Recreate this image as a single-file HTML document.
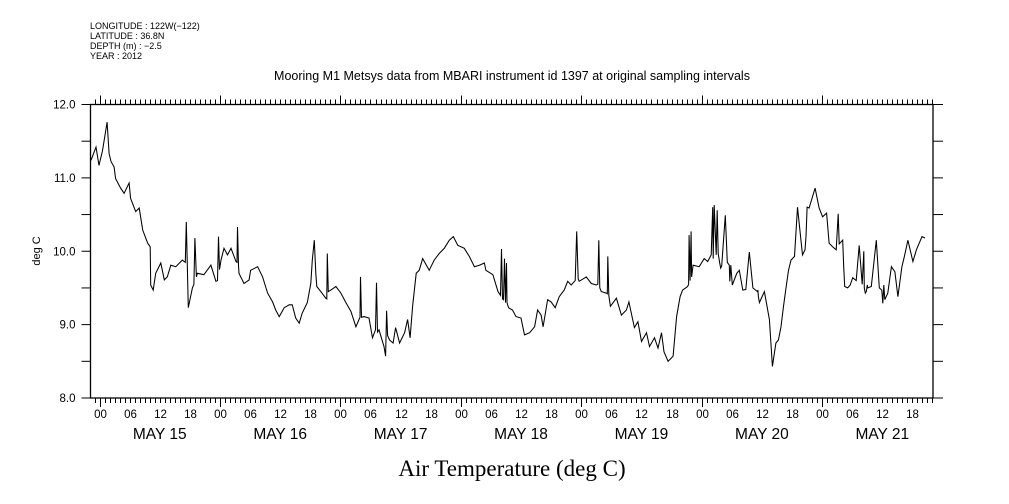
<!DOCTYPE html>
<html><head><meta charset="utf-8"><style>
body{margin:0;background:#fff;}
svg{display:block;font-family:"Liberation Sans",sans-serif;}
</style></head><body>
<svg id="chart" width="1009" height="504" viewBox="0 0 1009 504">
<g font-size="9" fill="#000">
<text x="90" y="29">LONGITUDE : 122W(−122)</text>
<text x="90" y="39">LATITUDE : 36.8N</text>
<text x="90" y="49">DEPTH (m) : −2.5</text>
<text x="90" y="59">YEAR : 2012</text>
</g>
<text x="512" y="80" text-anchor="middle" font-size="12.5">Mooring M1 Metsys data from MBARI instrument id 1397 at original sampling intervals</text>
<text transform="translate(40,251) rotate(-90)" text-anchor="middle" font-size="11">deg C</text>
<text x="512" y="476" text-anchor="middle" font-size="23" font-family="'Liberation Serif',serif">Air Temperature (deg C)</text>
<rect x="90.5" y="104.5" width="842.5" height="293.5" fill="none" stroke="#000" stroke-width="1.3"/>
<g id="ticks"></g>
<g id="labels" font-size="11.5"></g>
<polyline id="line" fill="none" stroke="#000" stroke-width="1.05"/>
</svg>
<script>
const hours=[-1.7,-0.7,-0.1,0.6,1.5,1.9,2.3,2.9,3.2,4.2,4.9,5.9,6.2,7.2,7.9,8.6,9.6,10.1,10.2,10.7,11.2,12.2,12.9,13.5,14.2,15.2,16.5,17.1,17.3,17.7,18.5,18.8,19.0,19.3,19.5,20.8,22.2,23.2,23.5,23.7,23.9,24.2,24.8,25.5,26.2,27.2,27.4,27.5,27.7,27.8,28.8,29.8,30.1,31.5,32.5,33.5,34.5,35.1,35.8,36.8,37.8,38.4,39.1,39.8,40.4,41.4,42.1,42.4,42.8,43.1,43.3,44.1,45.1,45.3,45.4,45.6,46.1,47.1,48.1,49.1,50.1,51.1,51.7,51.9,52.0,52.2,52.7,53.7,54.4,55.0,55.2,55.4,55.7,56.7,57.0,57.2,57.4,57.8,58.5,59.0,59.8,60.8,61.4,61.9,62.4,63.1,63.7,64.4,65.7,66.7,67.7,68.7,69.7,70.5,71.4,72.7,73.7,74.7,75.7,76.7,77.0,78.4,79.4,79.9,80.1,80.3,80.5,80.7,80.9,81.1,81.2,81.5,82.3,83.0,84.0,84.7,85.7,86.7,87.3,88.0,88.4,89.3,90.0,90.8,91.6,92.6,93.3,94.0,94.8,95.1,95.4,95.6,97.0,98.0,99.0,99.3,99.5,99.7,100.0,101.0,101.2,101.3,101.5,101.8,103.0,104.0,105.0,105.5,106.6,107.3,108.0,109.0,109.6,110.6,111.3,112.0,112.5,113.3,114.3,115.0,115.7,116.2,117.2,117.4,117.5,117.7,117.9,118.0,118.3,119.5,120.5,121.2,121.9,122.2,122.3,122.5,122.9,123.1,123.3,123.6,123.8,124.0,124.7,125.1,125.5,125.6,125.8,126.1,127.0,127.5,128.2,128.8,129.5,130.2,131.1,131.2,131.3,131.5,132.5,133.5,134.1,134.8,135.3,135.8,136.3,136.8,137.3,137.8,138.5,139.1,140.1,140.6,140.8,141.0,141.4,142.6,143.4,144.1,144.9,145.4,146.1,146.8,147.2,147.4,148.1,148.3,148.5,149.1,149.6,150.1,150.8,151.4,152.0,152.3,152.4,152.6,152.8,153.0,153.1,153.8,154.8,155.4,155.9,156.1,156.3,156.5,157.1,157.8,158.5,159.1,159.9,160.4,161.1,162.1,162.8,163.9,164.5,165.1,165.6,166.1];
const temps=[11.24,11.42,11.17,11.37,11.76,11.33,11.22,11.15,10.99,10.86,10.79,10.93,10.72,10.54,10.59,10.29,10.11,10.06,9.54,9.47,9.70,9.84,9.61,9.65,9.81,9.79,9.88,9.85,10.40,9.23,9.50,9.55,10.18,9.65,9.70,9.68,9.81,9.59,9.60,10.20,9.75,9.88,10.04,9.95,10.04,9.86,9.85,10.33,9.80,9.70,9.56,9.61,9.74,9.79,9.65,9.43,9.31,9.20,9.11,9.23,9.27,9.27,9.09,9.02,9.16,9.30,9.56,9.88,10.15,9.70,9.52,9.45,9.36,9.35,9.97,9.45,9.47,9.52,9.43,9.30,9.18,8.97,9.07,9.10,9.65,9.10,9.11,9.09,8.82,8.93,9.57,8.90,8.93,8.70,8.57,9.19,8.85,8.79,8.75,8.96,8.75,8.89,9.07,8.82,9.25,9.70,9.74,9.90,9.74,9.88,9.97,10.04,10.15,10.20,10.08,10.04,9.93,9.79,9.81,9.84,9.74,9.68,9.45,9.40,10.03,9.35,9.34,9.90,9.30,9.84,9.30,9.23,9.20,9.11,9.09,8.86,8.89,8.97,9.20,9.13,8.97,9.34,9.31,9.23,9.38,9.47,9.59,9.54,9.60,10.27,9.62,9.59,9.65,9.56,9.54,9.55,10.15,9.50,9.45,9.43,9.42,9.93,9.40,9.25,9.36,9.13,9.20,9.31,8.96,9.04,8.77,8.89,8.70,8.82,8.68,8.89,8.63,8.50,8.57,9.11,9.38,9.47,9.52,9.55,10.22,9.60,10.27,9.65,9.81,9.79,9.90,9.86,9.95,10.60,9.90,10.63,9.95,10.56,9.97,9.84,9.77,9.80,10.49,9.85,9.81,9.59,9.81,9.54,9.70,9.74,9.47,9.48,9.99,9.50,9.45,9.47,9.38,9.30,9.45,9.07,8.43,8.75,8.79,8.97,9.25,9.50,9.74,9.88,9.93,10.60,9.95,10.02,10.20,10.60,10.59,10.86,10.59,10.47,10.52,10.11,10.06,10.02,10.51,10.10,10.15,9.79,9.52,9.50,9.54,9.64,9.60,10.08,9.55,10.00,9.50,9.43,9.45,9.54,9.50,9.52,10.15,9.50,9.47,9.29,9.54,9.34,9.43,9.79,9.72,9.38,9.79,9.93,10.15,9.86,10.02,10.20,10.18];
const yTicks=[8.0,9.0,10.0,11.0,12.0];
const hourLabels=["00","06","12","18"];
const dayLabels=["MAY 15","MAY 16","MAY 17","MAY 18","MAY 19","MAY 20","MAY 21"];
const H0=-1.8,H1=166.1,X0=90.5,X1=933,Y0=398,Y1=104.5,V0=8,V1=12;
const xs=h=>X0+(h-H0)/(H1-H0)*(X1-X0);
const ys=v=>Y0-(v-V0)/(V1-V0)*(Y0-Y1);
const NS="http://www.w3.org/2000/svg";
const tg=document.getElementById('ticks'),lg=document.getElementById('labels');
function ln(x1,y1,x2,y2,name){const l=document.createElementNS(NS,'line');l.setAttribute('x1',x1);l.setAttribute('y1',y1);l.setAttribute('x2',x2);l.setAttribute('y2',y2);l.setAttribute('stroke','#000');l.setAttribute('stroke-width','1');


tg.appendChild(l);}
function tx(x,y,s,anchor,size,name){const t=document.createElementNS(NS,'text');t.setAttribute('x',x);t.setAttribute('y',y);t.setAttribute('text-anchor',anchor);if(size)t.setAttribute('font-size',size);t.textContent=s;


lg.appendChild(t);}
for(let v=V0;v<=V1+1e-9;v+=0.5){const y=ys(v);ln(X0-9,y,X0,y,'y-tick');ln(X1,y,X1+10,y,'y-tick-right');}
yTicks.forEach(v=>tx(X0-15,ys(v)+4,v.toFixed(1),'end',11.5,'y-tick-label'));
for(let h=-1;h<=H1;h++){const x=Math.round(xs(h))+0.5;const major=((h%24)+24)%24===0;
ln(x,Y1,x,Y1-(major?9:5),'x-tick-top');ln(x,Y0,x,Y0+(major?9:5),'x-tick-bottom');
if(h%6===0){tx(x,418,hourLabels[(h%24)/6],'middle',11.5,'hour-label');}
if(h%24===0&&h/24<dayLabels.length){tx(xs(h+12),439,dayLabels[h/24],'middle',15.5,'day-label');}}
document.getElementById('line').setAttribute('points',hours.map((h,i)=>xs(h).toFixed(1)+','+ys(temps[i]).toFixed(1)).join(' '));
</script>
</body></html>
